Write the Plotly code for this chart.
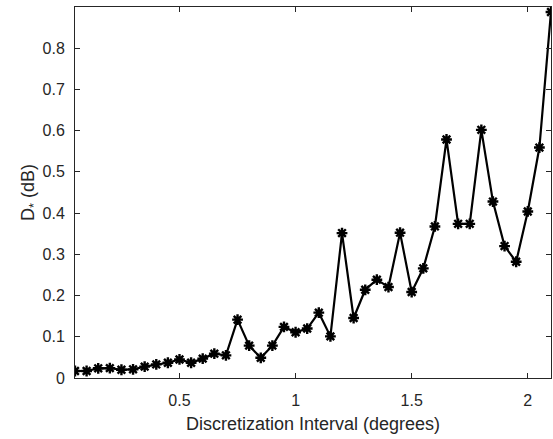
import plotly.graph_objects as go

# Discretization interval (degrees) and the resulting D* error (dB)
interval = [0.05, 0.10, 0.15, 0.20, 0.25, 0.30, 0.35, 0.40, 0.45, 0.50,
            0.55, 0.60, 0.65, 0.70, 0.75, 0.80, 0.85, 0.90, 0.95, 1.00,
            1.05, 1.10, 1.15, 1.20, 1.25, 1.30, 1.35, 1.40, 1.45, 1.50,
            1.55, 1.60, 1.65, 1.70, 1.75, 1.80, 1.85, 1.90, 1.95, 2.00,
            2.05, 2.10]
d_star = [0.017, 0.017, 0.0235, 0.024, 0.020, 0.021, 0.0276, 0.033, 0.037, 0.045,
          0.037, 0.047, 0.059, 0.055, 0.1415, 0.0785, 0.049, 0.0785, 0.124, 0.111,
          0.120, 0.1585, 0.101, 0.3515, 0.1455, 0.214, 0.2385, 0.2206, 0.3525, 0.2085,
          0.266, 0.3677, 0.5787, 0.374, 0.374, 0.602, 0.428, 0.320, 0.282, 0.404,
          0.559, 0.888]

x_ticks = [0.5, 1, 1.5, 2]
x_tick_text = ["0.5", "1", "1.5", "2"]
y_ticks = [0, 0.1, 0.2, 0.3, 0.4, 0.5, 0.6, 0.7, 0.8]
y_tick_text = ["0", "0.1", "0.2", "0.3", "0.4", "0.5", "0.6", "0.7", "0.8"]

axis_color = "#262626"
font_family = "Liberation Sans, Arial, Helvetica, sans-serif"

fig = go.Figure()
fig.add_trace(go.Scatter(
    x=interval, y=d_star,
    mode="lines+markers",
    line=dict(color="black", width=2.2),
    marker=dict(symbol="asterisk-open", size=9, color="black",
                line=dict(color="black", width=2.4)),
    showlegend=False,
))

axis_common = dict(
    showline=True, linecolor=axis_color, linewidth=1,
    mirror="ticks", ticks="inside", ticklen=5, tickwidth=1,
    tickcolor=axis_color, showgrid=False, zeroline=False,
    tickfont=dict(family=font_family, size=16, color=axis_color),
)

fig.update_xaxes(
    range=[0.05, 2.1], tickvals=x_ticks, ticktext=x_tick_text,
    ticklabelstandoff=8,
    title=dict(text="Discretization Interval (degrees)",
               font=dict(family=font_family, size=18, color=axis_color),
               standoff=9),
    **axis_common,
)
fig.update_yaxes(
    range=[0, 0.9], tickvals=y_ticks, ticktext=y_tick_text,
    ticklabelstandoff=6,
    title=dict(text="D<sub>*</sub> (dB)",
               font=dict(family=font_family, size=18, color=axis_color),
               standoff=3),
    **axis_common,
)

fig.update_layout(
    width=553, height=439,
    margin=dict(l=75, r=2, t=7, b=61),
    paper_bgcolor="white", plot_bgcolor="white",
)

fig.write_html("out.html")
